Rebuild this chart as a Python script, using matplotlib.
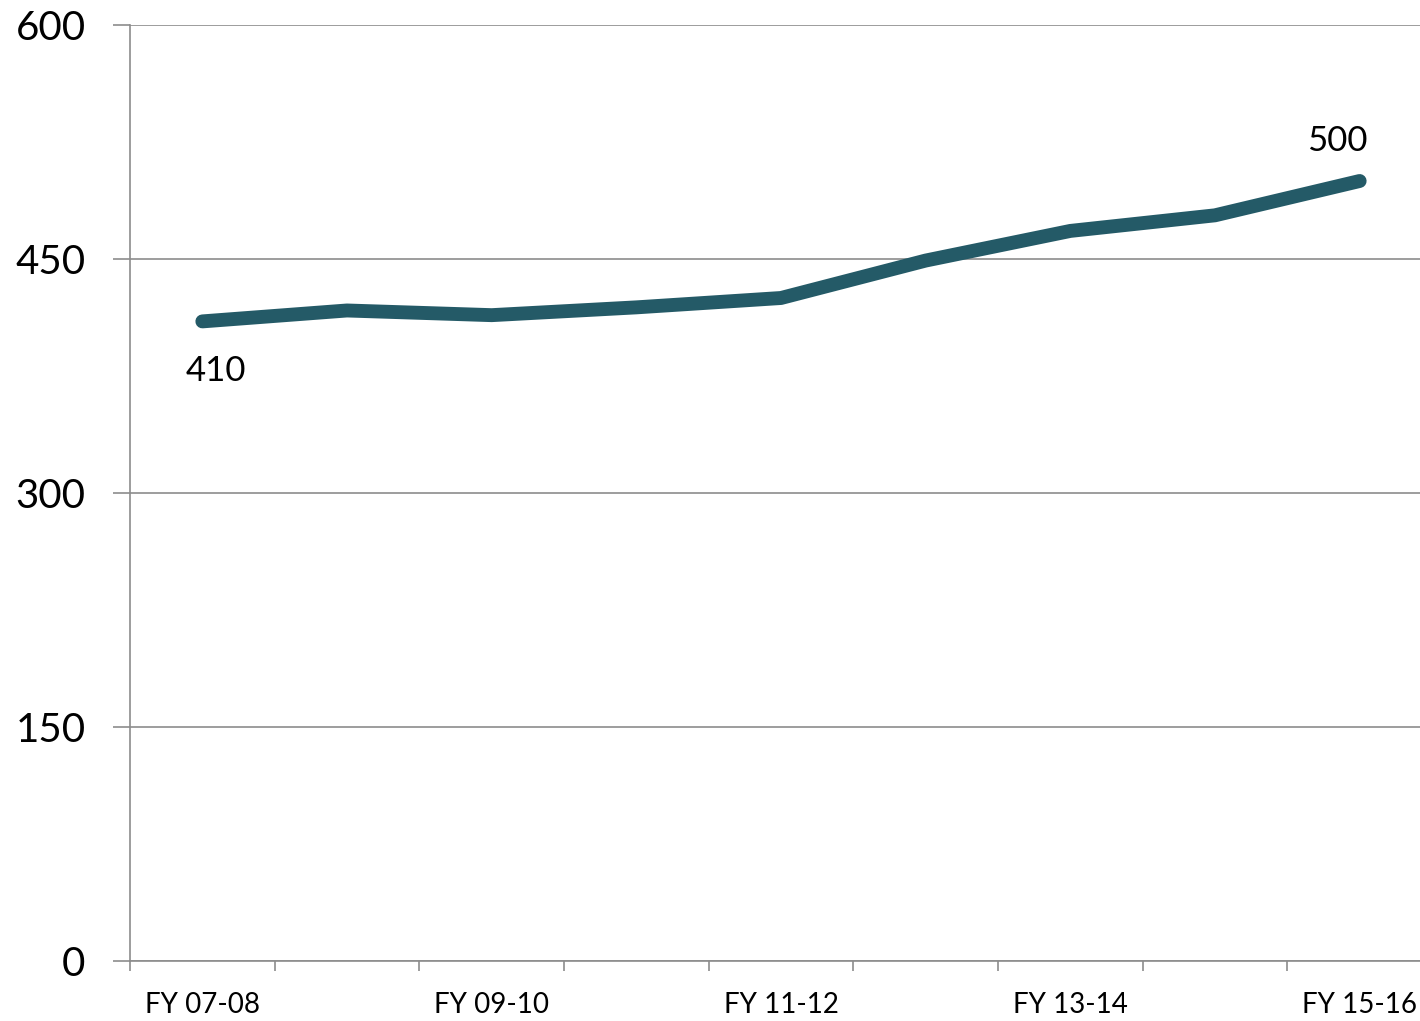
import matplotlib.pyplot as plt
from matplotlib.ticker import FixedLocator

plt.rcParams['font.family'] = ['Lato', 'DejaVu Sans']

# chart data
years = ['FY 07-08', 'FY 08-09', 'FY 09-10', 'FY 10-11', 'FY 11-12',
         'FY 12-13', 'FY 13-14', 'FY 14-15', 'FY 15-16']
values = [410, 417, 414, 419, 425, 449, 468, 478, 500]
y_ticks = [0, 150, 300, 450, 600]

line_color = '#245a67'
grid_color = '#8c8c8c'

fig = plt.figure(figsize=(14.2, 10.21), dpi=100)
# plot area runs a little past the right edge of the picture
ax = fig.add_axes([130 / 1420, 1 - 961 / 1021, (1432 - 130) / 1420, (961 - 25) / 1021])

x = list(range(len(years)))
ax.plot(x, values, color=line_color, lw=10, solid_capstyle='round',
        solid_joinstyle='round', zorder=3)

# end point labels
ax.annotate(str(values[0]), (x[0], values[0]), xytext=(10, -36),
            textcoords='offset points', ha='center', va='center', fontsize=25)
ax.annotate(str(values[-1]), (x[-1], values[-1]), xytext=(-16, 29),
            textcoords='offset points', ha='center', va='center', fontsize=25)

ax.set_xlim(-0.5, len(years) - 0.5)
ax.set_ylim(0, 600)
ax.set_yticks(y_ticks)
ax.set_yticklabels([str(v) for v in y_ticks], fontsize=29)
ax.yaxis.grid(True, color=grid_color, lw=1.2)
ax.set_axisbelow(True)

# labels on every other category, tick marks between categories
ax.set_xticks(x[::2])
ax.set_xticklabels(years[::2], fontsize=20)
ax.xaxis.set_minor_locator(FixedLocator([i - 0.5 for i in range(len(years) + 1)]))
ax.tick_params(axis='x', which='major', length=0, pad=22)
ax.tick_params(axis='x', which='minor', length=7, width=1.2, color=grid_color)
ax.tick_params(axis='y', length=12, width=1.2, color=grid_color, pad=20)

for side in ['top', 'right']:
    ax.spines[side].set_visible(False)
for side in ['left', 'bottom']:
    ax.spines[side].set_color(grid_color)
    ax.spines[side].set_linewidth(1.2)

fig.savefig('out.png', dpi=100)
